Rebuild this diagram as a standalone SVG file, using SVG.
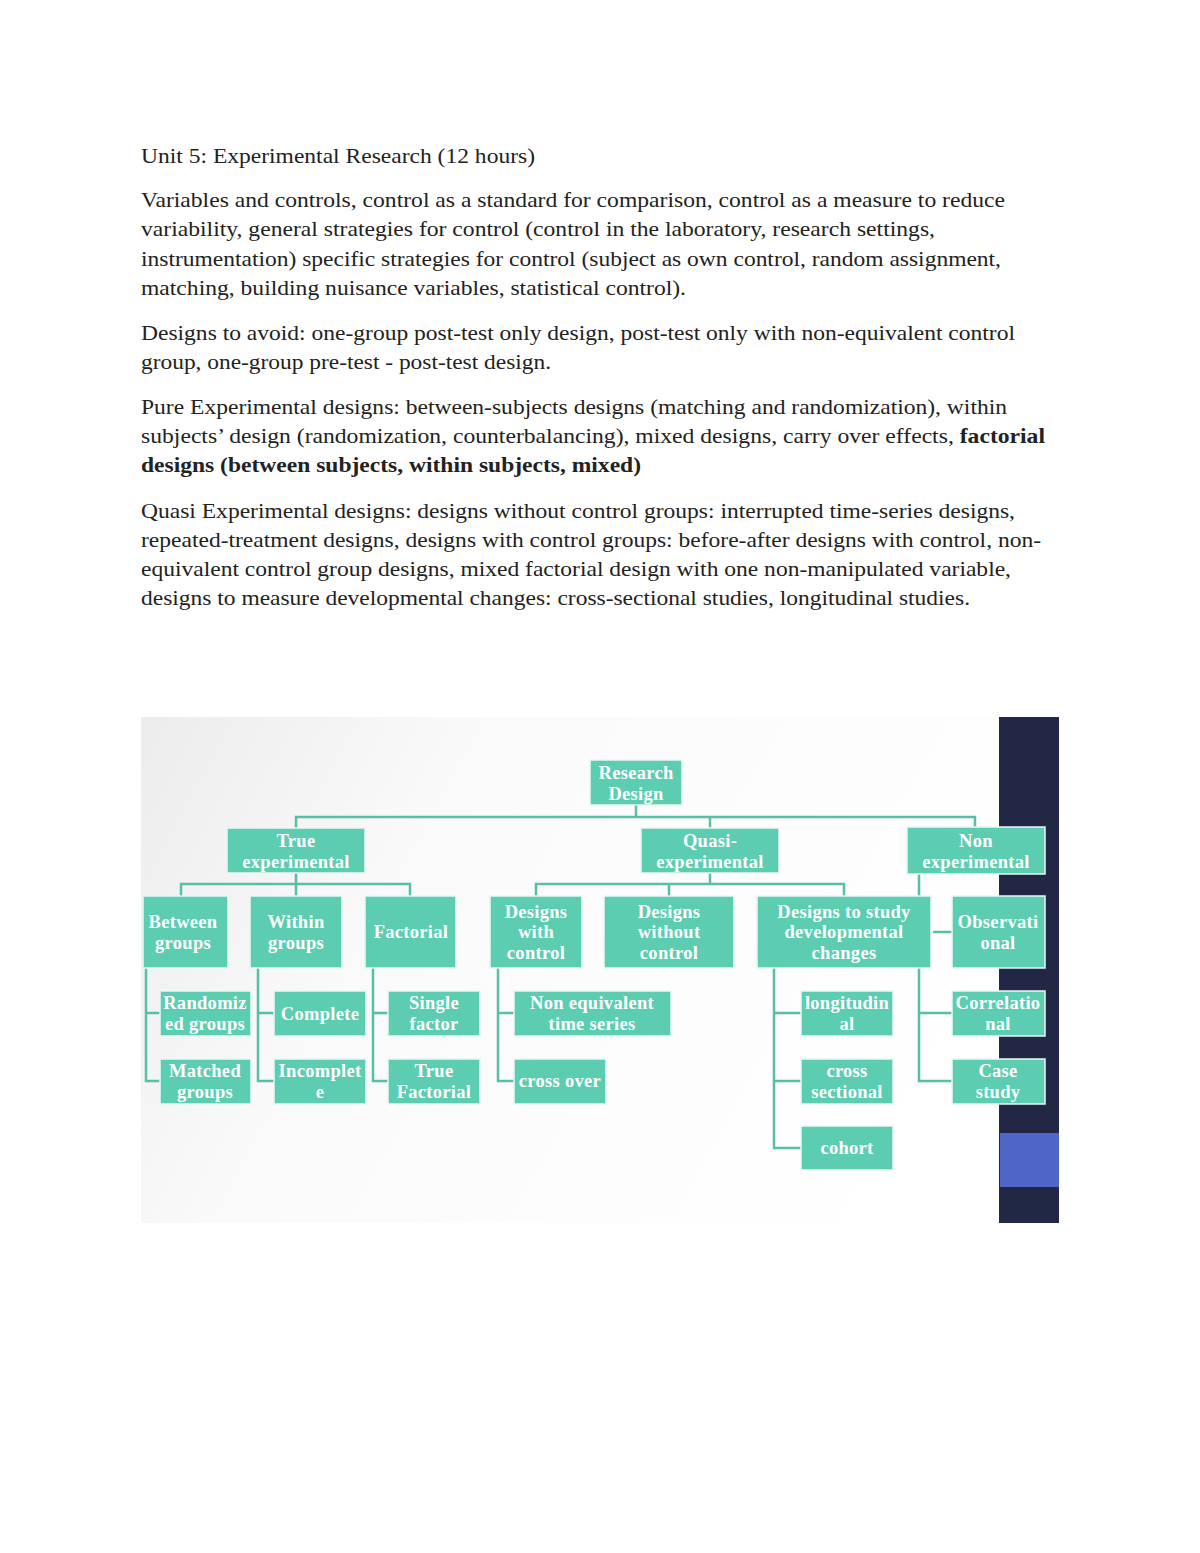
<svg xmlns="http://www.w3.org/2000/svg" width="1200" height="1553" viewBox="0 0 1200 1553">
<defs>
<style>
.p{font-family:"Liberation Serif",serif;font-size:21px;fill:#222}
.n rect{fill:#5ccdb0;stroke:#e9f7f3;stroke-width:1.5}
.n text{font-family:"Liberation Serif",serif;font-size:18.5px;font-weight:bold;fill:#fff;text-anchor:middle;letter-spacing:0.3px}
.c path{fill:none;stroke:#57bfa3;stroke-width:2.5}
</style>
<linearGradient id="bg" x1="0" y1="0" x2="1" y2="0.3">
<stop offset="0" stop-color="#ececec"/><stop offset="0.35" stop-color="#fafafa"/><stop offset="1" stop-color="#ffffff"/>
</linearGradient>
</defs>
<rect width="1200" height="1553" fill="#fff"/>
<text class="p" x="141" y="163" textLength="394" lengthAdjust="spacingAndGlyphs">Unit 5: Experimental Research (12 hours)</text>
<text class="p" x="141" y="207" textLength="864" lengthAdjust="spacingAndGlyphs">Variables and controls, control as a standard for comparison, control as a measure to reduce</text>
<text class="p" x="141" y="236" textLength="794" lengthAdjust="spacingAndGlyphs">variability, general strategies for control (control in the laboratory, research settings,</text>
<text class="p" x="141" y="266" textLength="860" lengthAdjust="spacingAndGlyphs">instrumentation) specific strategies for control (subject as own control, random assignment,</text>
<text class="p" x="141" y="295" textLength="545" lengthAdjust="spacingAndGlyphs">matching, building nuisance variables, statistical control).</text>
<text class="p" x="141" y="340" textLength="874" lengthAdjust="spacingAndGlyphs">Designs to avoid: one-group post-test only design, post-test only with non-equivalent control</text>
<text class="p" x="141" y="369" textLength="410" lengthAdjust="spacingAndGlyphs">group, one-group pre-test - post-test design.</text>
<text class="p" x="141" y="414" textLength="866" lengthAdjust="spacingAndGlyphs">Pure Experimental designs: between-subjects designs (matching and randomization), within</text>
<text class="p" x="141" y="443" textLength="904" lengthAdjust="spacingAndGlyphs">subjects’ design (randomization, counterbalancing), mixed designs, carry over effects, <tspan font-weight="bold">factorial</tspan></text>
<text class="p" x="141" y="472" font-weight="bold" textLength="500" lengthAdjust="spacingAndGlyphs">designs (between subjects, within subjects, mixed)</text>
<text class="p" x="141" y="518" textLength="874" lengthAdjust="spacingAndGlyphs">Quasi Experimental designs: designs without control groups: interrupted time-series designs,</text>
<text class="p" x="141" y="547" textLength="900" lengthAdjust="spacingAndGlyphs">repeated-treatment designs, designs with control groups: before-after designs with control, non-</text>
<text class="p" x="141" y="576" textLength="870" lengthAdjust="spacingAndGlyphs">equivalent control group designs, mixed factorial design with one non-manipulated variable,</text>
<text class="p" x="141" y="605" textLength="829" lengthAdjust="spacingAndGlyphs">designs to measure developmental changes: cross-sectional studies, longitudinal studies.</text>

<rect x="141" y="717" width="918" height="506" fill="url(#bg)"/>
<rect x="999" y="717" width="60" height="506" fill="#222745"/>
<rect x="1000" y="1133" width="59" height="54" fill="#5065c8"/>

<g class="c">
<path d="M636 805V817M296 828V817H975V828M710 817V828"/>
<path d="M296 873V884M181 896V884H410V896M296 884V896"/>
<path d="M710 873V884M536 896V884H844V896M669 884V896"/>
<path d="M919 874V896M933 932H952M919 968V1081H952M919 1013H952"/>
<path d="M146 968V1081H160M146 1013H160"/>
<path d="M258 968V1081H274M258 1013H274"/>
<path d="M373 968V1081H388M373 1013H388"/>
<path d="M498 968V1081H514M498 1013H514"/>
<path d="M774 968V1148H801M774 1013H801M774 1081H801"/>
</g>

<g id="research" class="n"><rect x="590" y="760" width="92" height="45"/><text x="636" y="779">Research</text><text x="636" y="800">Design</text></g>
<g id="true" class="n"><rect x="227" y="828" width="138" height="45"/><text x="296" y="847">True</text><text x="296" y="868">experimental</text></g>
<g id="quasi" class="n"><rect x="641" y="828" width="138" height="45"/><text x="710" y="847">Quasi-</text><text x="710" y="868">experimental</text></g>
<g id="non" class="n"><rect x="907" y="827" width="138" height="47"/><text x="976" y="847">Non</text><text x="976" y="868">experimental</text></g>

<g id="between" class="n"><rect x="143" y="896" width="85" height="72"/><text x="183" y="928">Between</text><text x="183" y="949">groups</text></g>
<g id="within" class="n"><rect x="250" y="896" width="92" height="72"/><text x="296" y="928">Within</text><text x="296" y="949">groups</text></g>
<g id="factorial" class="n"><rect x="365" y="896" width="91" height="72"/><text x="411" y="938">Factorial</text></g>
<g id="dwith" class="n"><rect x="490" y="896" width="92" height="72"/><text x="536" y="918">Designs</text><text x="536" y="938">with</text><text x="536" y="959">control</text></g>
<g id="dwithout" class="n"><rect x="604" y="896" width="130" height="72"/><text x="669" y="918">Designs</text><text x="669" y="938">without</text><text x="669" y="959">control</text></g>
<g id="ddev" class="n"><rect x="757" y="896" width="174" height="72"/><text x="844" y="918">Designs to study</text><text x="844" y="938">developmental</text><text x="844" y="959">changes</text></g>
<g id="obs" class="n"><rect x="952" y="896" width="93" height="72"/><text x="998" y="928">Observati</text><text x="998" y="949">onal</text></g>

<g id="random" class="n"><rect x="160" y="991" width="91" height="45"/><text x="205" y="1009">Randomiz</text><text x="205" y="1030">ed groups</text></g>
<g id="complete" class="n"><rect x="274" y="991" width="92" height="45"/><text x="320" y="1020">Complete</text></g>
<g id="single" class="n"><rect x="388" y="991" width="92" height="45"/><text x="434" y="1009">Single</text><text x="434" y="1030">factor</text></g>
<g id="nonequiv" class="n"><rect x="514" y="991" width="157" height="45"/><text x="592" y="1009">Non equivalent</text><text x="592" y="1030">time series</text></g>
<g id="longit" class="n"><rect x="801" y="991" width="92" height="45"/><text x="847" y="1009">longitudin</text><text x="847" y="1030">al</text></g>
<g id="correl" class="n"><rect x="952" y="991" width="93" height="45"/><text x="998" y="1009">Correlatio</text><text x="998" y="1030">nal</text></g>

<g id="matched" class="n"><rect x="160" y="1059" width="91" height="45"/><text x="205" y="1077">Matched</text><text x="205" y="1098">groups</text></g>
<g id="incomplete" class="n"><rect x="274" y="1059" width="92" height="45"/><text x="320" y="1077">Incomplet</text><text x="320" y="1098">e</text></g>
<g id="truefact" class="n"><rect x="388" y="1059" width="92" height="45"/><text x="434" y="1077">True</text><text x="434" y="1098">Factorial</text></g>
<g id="crossover" class="n"><rect x="514" y="1059" width="92" height="45"/><text x="560" y="1087">cross over</text></g>
<g id="crosssec" class="n"><rect x="801" y="1059" width="92" height="45"/><text x="847" y="1077">cross</text><text x="847" y="1098">sectional</text></g>
<g id="casestudy" class="n"><rect x="952" y="1059" width="93" height="45"/><text x="998" y="1077">Case</text><text x="998" y="1098">study</text></g>
<g id="cohort" class="n"><rect x="801" y="1126" width="92" height="44"/><text x="847" y="1154">cohort</text></g>
</svg>
